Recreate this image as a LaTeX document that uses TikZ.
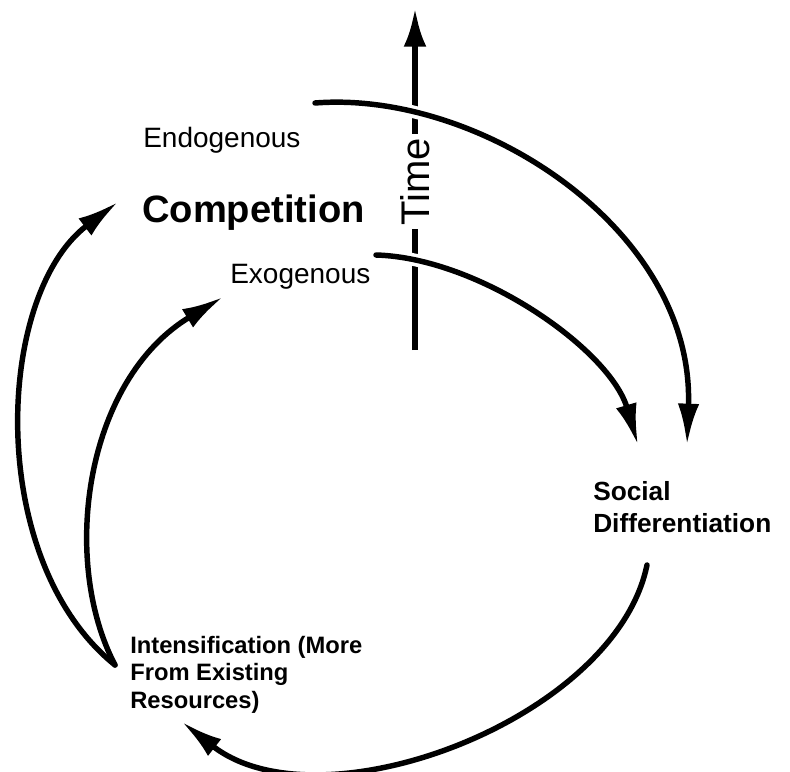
\documentclass[tikz,border=0pt]{standalone}
\usepackage{fontspec}
\setmainfont{Liberation Sans}
\usetikzlibrary{arrows.meta}
\begin{document}
\begin{tikzpicture}[x=0.75pt,y=-0.75pt,
  flow/.style={line width=4.1pt, line cap=round, -{Latex[length=31pt,width=16pt]}},
  halo/.style={preaction={draw=white, line width=9.5pt, -}},
  timeline/.style={line width=4.5pt, -{Latex[length=29pt,width=17pt]}},
  lbl/.style={inner sep=0pt, anchor=base west, align=left},
  timelbl/.style={rotate=90, fill=white, inner sep=2.5pt, anchor=base, font=\fontsize{30}{35}\selectfont}]
\useasboundingbox (0,0) rectangle (790,772);

% coordinates
\coordinate (t0) at (415,350);
\coordinate (t1) at (415,8);
\coordinate (en0) at (315,103);
\coordinate (en1) at (687,445);
\coordinate (ex0) at (376,255);
\coordinate (ex1) at (638,445);
\coordinate (sd0) at (647,565);
\coordinate (sd1) at (182,722);
\coordinate (in0) at (115,665);
\coordinate (comp) at (118,202);
\coordinate (exo) at (223,297);

% time axis
\draw[timeline] (t0) -- (t1);
\node[timelbl] (time) at (429,181.5) {Time};

% labels
\node[lbl, font=\fontsize{21}{25}\selectfont] (endo) at (143,147) {Endogenous};
\node[lbl, font=\fontsize{28.6}{33}\bfseries\selectfont] (competition) at (142,222) {Competition};
\node[lbl, font=\fontsize{21}{25}\selectfont] (exog) at (230,283) {Exogenous};
\node[lbl, font=\fontsize{19.7}{24}\bfseries\selectfont] (social) at (593,532) {Social\\Differentiation};
\node[lbl, font=\fontsize{17.8}{20.6}\bfseries\selectfont] (intens) at (130,708) {Intensification (More\\From Existing\\Resources)};

% connectors
\draw[flow, halo] (en0) .. controls (480,90) and (695,230) .. (en1);
\draw[flow, halo] (ex0) .. controls (480,258) and (610,350) .. (ex1);
\draw[flow] (sd0) .. controls (615,720) and (320,830) .. (sd1);
\draw[flow] (in0) .. controls (-15,560) and (-5,295) .. (comp);
\draw[flow] (in0) .. controls (60,560) and (85,380) .. (exo);
\end{tikzpicture}
\end{document}
